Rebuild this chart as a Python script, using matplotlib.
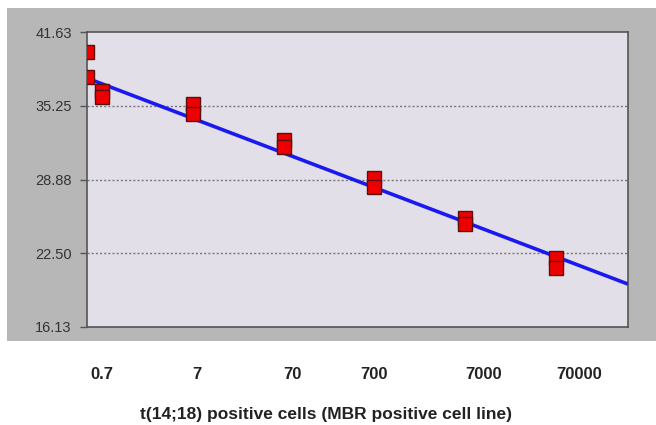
import numpy as np
import matplotlib
matplotlib.use("Agg")
import matplotlib.pyplot as plt
from matplotlib.patches import Rectangle

# ---- data ----
cells = [0.48, 0.48, 0.7, 0.7, 7, 7, 70, 70, 700, 700, 7000, 7000, 70000, 70000]
ct = [39.9, 37.7, 36.5, 36.0, 35.4, 34.5, 32.3, 31.7, 29.0, 28.2, 25.55, 25.0, 22.1, 21.2]
fit_intercept = 36.69
fit_slope = -2.99  # per decade
x_ticks = [0.7, 7, 70, 700, 7000, 70000]
x_tick_labels = ["0.7", "7", "70", "700", "7000", "70000"]
y_ticks = [16.13, 22.50, 28.88, 35.25, 41.63]
y_tick_labels = ["16.13", "22.50", "28.88", "35.25", "41.63"]
x_limits = [0.48, 432000]
xlabel = "t(14;18) positive cells (MBR positive cell line)"

W, H = 656, 425
fig = plt.figure(figsize=(W / 100, H / 100), dpi=100)
fig.patch.set_facecolor("white")
panel = Rectangle((7 / W, 1 - 341 / H), 1 - 7 / W, (341 - 8) / H,
                  transform=fig.transFigure, facecolor="#b7b7b7",
                  edgecolor="none", zorder=-10)
fig.add_artist(panel)

ax = fig.add_axes([87 / W, 1 - 327 / H, (628 - 87) / W, (327 - 32) / H])
ax.set_zorder(1)
ax.set_facecolor("#e3dfe8")
ax.set_xscale("log")
ax.set_xlim(*x_limits)
ax.set_ylim(y_ticks[0], y_ticks[-1])

for y in y_ticks[1:-1]:
    ax.axhline(y, color="#777777", lw=1.0, ls=(0, (1.5, 1.5)), zorder=1)

xx = np.array(x_limits)
ax.plot(xx, fit_intercept + fit_slope * np.log10(xx), color="#1a1af0", lw=2.6,
        zorder=3, solid_capstyle="butt")
ax.plot(cells, ct, ls="none", marker="s", ms=9.5, mfc="#ee0000", mec="#5a1010",
        mew=1.0, zorder=4, clip_on=True)

for s in ax.spines.values():
    s.set_color("#555555")
    s.set_linewidth(1.2)

ax.set_yticks(y_ticks)
ax.set_yticklabels(y_tick_labels, fontsize=10.5, color="#333333",
                   family="Liberation Sans")
ax.tick_params(axis="y", direction="out", length=5, width=1, color="#555555", pad=6)

ax.set_xticks(x_ticks)
ax.xaxis.set_minor_locator(matplotlib.ticker.NullLocator())
ax.set_xticklabels(x_tick_labels, fontsize=12, fontweight="bold", color="#222222",
                   family="Liberation Sans")
ax.tick_params(axis="x", length=0, pad=29)
for lab, t in zip(ax.get_xticklabels(), x_tick_labels):
    lab.set_ha("center" if t in ("0.7", "700") else "left")

fig.text((138 + 513) / 2 / W, 1 - 414 / H, xlabel, ha="center", va="center",
         fontsize=12.5, fontweight="bold", color="#222222", family="Liberation Sans")

fig.savefig("out.png", dpi=100)
